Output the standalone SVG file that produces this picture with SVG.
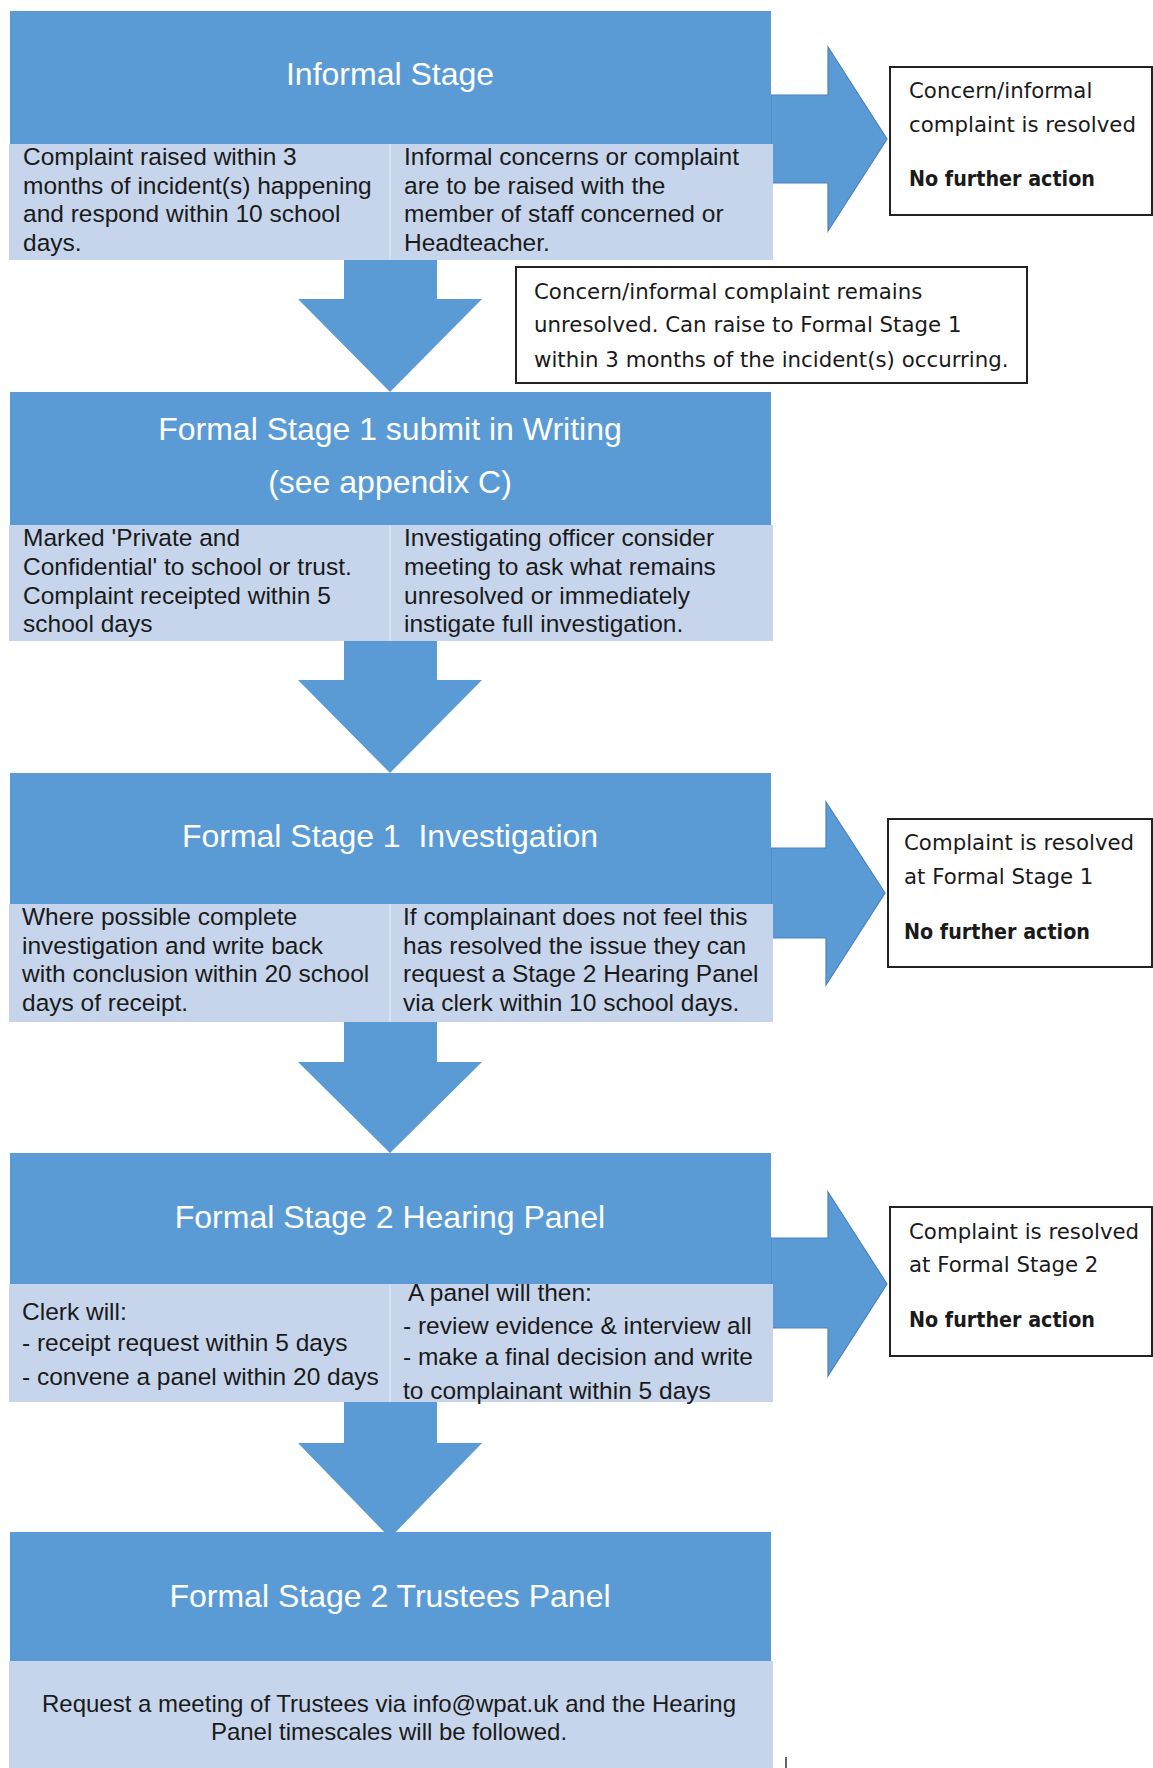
<svg xmlns="http://www.w3.org/2000/svg" width="1153" height="1768" viewBox="0 0 1153 1768">
<style>
.hdr{fill:#5B9BD5;}
.cell{fill:#C6D5EB;}
.sep{stroke:#DCE5F2;stroke-width:1.5;}
.arrow{fill:#5B9BD5;}
.rarrow{fill:#5B9BD5;stroke:#4A82BD;stroke-width:1.2;}
.box{fill:#FFFFFF;stroke:#222222;stroke-width:2;}
.title{font-family:"Liberation Sans",Arial,sans-serif;font-size:32px;fill:#FFFFFF;text-anchor:middle;}
.body{font-family:"Liberation Sans",Arial,sans-serif;font-size:24.5px;fill:#1A1A1A;}
.foot{font-family:"Liberation Sans",Arial,sans-serif;font-size:24px;fill:#1A1A1A;text-anchor:middle;}
.side{font-family:"DejaVu Sans",Verdana,sans-serif;font-size:21.3px;fill:#1A1A1A;}
.bold{font-weight:bold;font-size:20.5px;}
</style>
<rect width="1153" height="1768" fill="#FFFFFF"/>

<g id="connectors">
  <path class="arrow" d="M344,260 L437,260 L437,299 L482,299 L390,392 L298,299 L344,299 Z"/>
  <path class="arrow" d="M344,641 L437,641 L437,680 L482,680 L390,773 L298,680 L344,680 Z"/>
  <path class="arrow" d="M344,1022 L437,1022 L437,1062 L482,1062 L390,1153 L298,1062 L344,1062 Z"/>
  <path class="arrow" d="M344,1402 L437,1402 L437,1443 L482,1443 L390,1538 L298,1443 L344,1443 Z"/>
  <path class="rarrow" d="M771,95 L828,95 L828,47 L887,139 L828,231 L828,183 L771,183 Z"/>
  <path class="rarrow" d="M771,848 L826,848 L826,802 L885,893 L826,985 L826,938 L771,938 Z"/>
  <path class="rarrow" d="M771,1238 L828,1238 L828,1192 L887,1284 L828,1376 L828,1328 L771,1328 Z"/>
</g>

<g id="informal-stage">
  <rect class="hdr" x="10" y="11" width="761" height="133"/>
  <rect class="cell" x="9" y="144" width="764" height="116"/>
  <line class="sep" x1="390" y1="144" x2="390" y2="260"/>
  <text class="title" x="390" y="85">Informal Stage</text>
  <text class="body" x="23" y="165">Complaint raised within 3</text>
  <text class="body" x="23" y="194">months of incident(s) happening</text>
  <text class="body" x="23" y="222">and respond within 10 school</text>
  <text class="body" x="23" y="251">days.</text>
  <text class="body" x="404" y="165">Informal concerns or complaint</text>
  <text class="body" x="404" y="194">are to be raised with the</text>
  <text class="body" x="404" y="222">member of staff concerned or</text>
  <text class="body" x="404" y="251">Headteacher.</text>
</g>

<g id="informal-resolved">
  <rect class="box" x="890" y="67" width="262" height="148"/>
  <text class="side" x="909" y="98">Concern/informal</text>
  <text class="side" x="909" y="132">complaint is resolved</text>
  <text class="side bold" x="909" y="186" textLength="186" lengthAdjust="spacingAndGlyphs">No further action</text>
</g>

<g id="informal-unresolved">
  <rect class="box" x="516" y="267" width="511" height="116"/>
  <text class="side" x="534" y="299">Concern/informal complaint remains</text>
  <text class="side" x="534" y="332">unresolved. Can raise to Formal Stage 1</text>
  <text class="side" x="534" y="367">within 3 months of the incident(s) occurring.</text>
</g>

<g id="formal-stage-1-submit">
  <rect class="hdr" x="10" y="392" width="761" height="133"/>
  <rect class="cell" x="9" y="525" width="764" height="116"/>
  <line class="sep" x1="390" y1="525" x2="390" y2="641"/>
  <text class="title" x="390" y="440">Formal Stage 1 submit in Writing</text>
  <text class="title" x="390" y="493">(see appendix C)</text>
  <text class="body" x="23" y="546">Marked 'Private and</text>
  <text class="body" x="23" y="575">Confidential' to school or trust.</text>
  <text class="body" x="23" y="604">Complaint receipted within 5</text>
  <text class="body" x="23" y="632">school days</text>
  <text class="body" x="404" y="546">Investigating officer consider</text>
  <text class="body" x="404" y="575">meeting to ask what remains</text>
  <text class="body" x="404" y="604">unresolved or immediately</text>
  <text class="body" x="404" y="632">instigate full investigation.</text>
</g>

<g id="formal-stage-1-investigation">
  <rect class="hdr" x="10" y="773" width="761" height="131"/>
  <rect class="cell" x="9" y="904" width="764" height="118"/>
  <line class="sep" x1="390" y1="904" x2="390" y2="1022"/>
  <text class="title" x="390" y="847" xml:space="preserve">Formal Stage 1  Investigation</text>
  <text class="body" x="22" y="925">Where possible complete</text>
  <text class="body" x="22" y="954">investigation and write back</text>
  <text class="body" x="22" y="982">with conclusion within 20 school</text>
  <text class="body" x="22" y="1011">days of receipt.</text>
  <text class="body" x="403" y="925">If complainant does not feel this</text>
  <text class="body" x="403" y="954">has resolved the issue they can</text>
  <text class="body" x="403" y="982">request a Stage 2 Hearing Panel</text>
  <text class="body" x="403" y="1011">via clerk within 10 school days.</text>
</g>

<g id="stage-1-resolved">
  <rect class="box" x="888" y="819" width="264" height="148"/>
  <text class="side" x="904" y="850">Complaint is resolved</text>
  <text class="side" x="904" y="884">at Formal Stage 1</text>
  <text class="side bold" x="904" y="939" textLength="186" lengthAdjust="spacingAndGlyphs">No further action</text>
</g>

<g id="formal-stage-2-hearing">
  <rect class="hdr" x="10" y="1153" width="761" height="131"/>
  <rect class="cell" x="9" y="1284" width="764" height="118"/>
  <line class="sep" x1="390" y1="1284" x2="390" y2="1402"/>
  <text class="title" x="390" y="1228">Formal Stage 2 Hearing Panel</text>
  <text class="body" x="22" y="1320">Clerk will:</text>
  <text class="body" x="22" y="1351">- receipt request within 5 days</text>
  <text class="body" x="22" y="1385">- convene a panel within 20 days</text>
  <text class="body" x="408" y="1301">A panel will then:</text>
  <text class="body" x="403" y="1334">- review evidence &amp; interview all</text>
  <text class="body" x="403" y="1365">- make a final decision and write</text>
  <text class="body" x="403" y="1399">to complainant within 5 days</text>
</g>

<g id="stage-2-resolved">
  <rect class="box" x="890" y="1207" width="262" height="149"/>
  <text class="side" x="909" y="1239">Complaint is resolved</text>
  <text class="side" x="909" y="1272">at Formal Stage 2</text>
  <text class="side bold" x="909" y="1327" textLength="186" lengthAdjust="spacingAndGlyphs">No further action</text>
</g>

<g id="formal-stage-2-trustees">
  <rect class="hdr" x="10" y="1532" width="761" height="129"/>
  <rect class="cell" x="9" y="1661" width="764" height="107"/>
  <text class="title" x="390" y="1607">Formal Stage 2 Trustees Panel</text>
  <text class="foot" x="389" y="1712">Request a meeting of Trustees via info@wpat.uk and the Hearing</text>
  <text class="foot" x="389" y="1740">Panel timescales will be followed.</text>
</g>

<line x1="786" y1="1757" x2="786" y2="1768" stroke="#333333" stroke-width="1.5"/>
</svg>
